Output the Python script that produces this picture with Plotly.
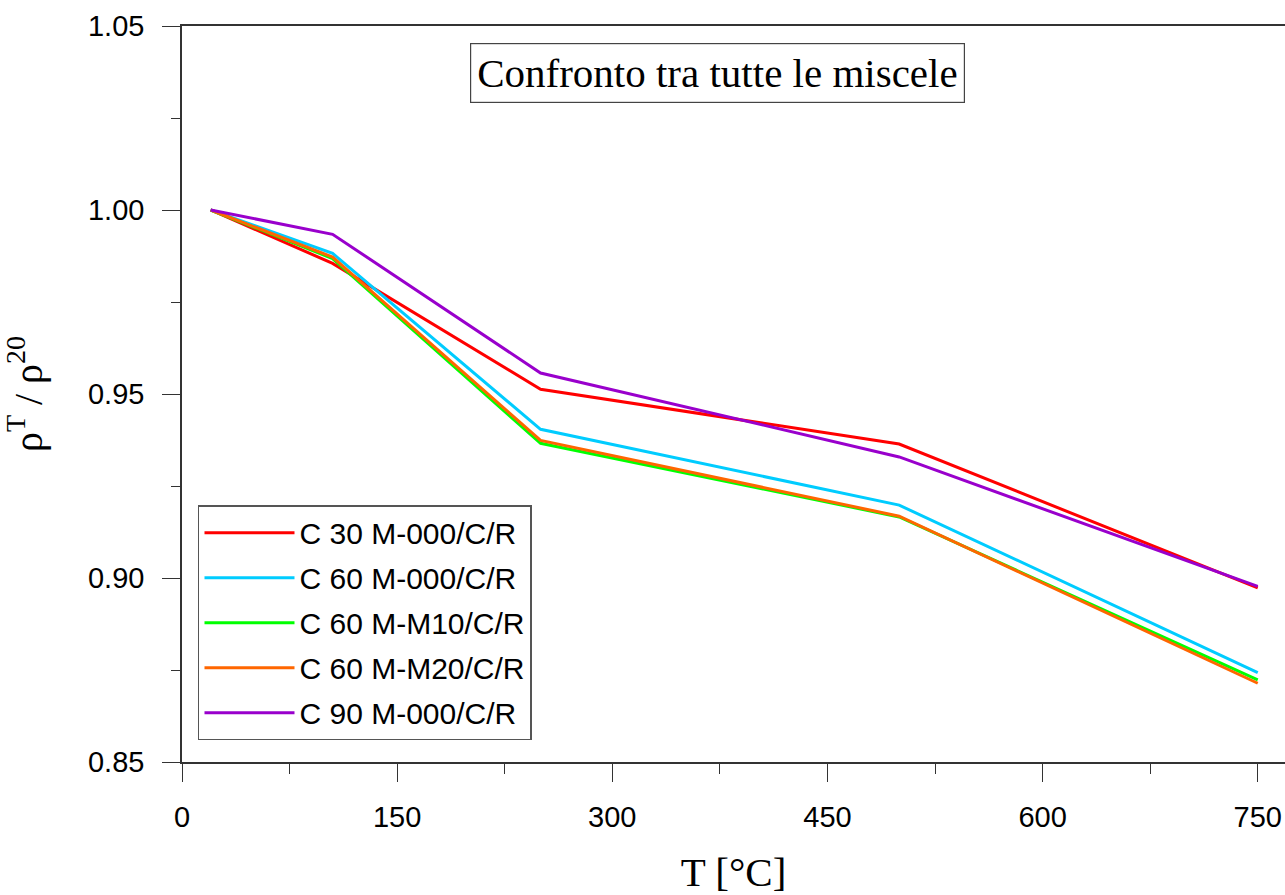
import plotly.graph_objects as go

T = [20, 105, 250, 500, 750]
series_names = ["C 30 M-000/C/R", "C 60 M-000/C/R", "C 60 M-M10/C/R", "C 60 M-M20/C/R", "C 90 M-000/C/R"]
c30_m000 = [1.000, 0.9855, 0.9513, 0.9364, 0.8973]
c60_m000 = [1.000, 0.9882, 0.9404, 0.9198, 0.8743]
c60_m10 = [1.000, 0.9868, 0.9366, 0.9166, 0.8723]
c60_m20 = [1.000, 0.9872, 0.9374, 0.9168, 0.8714]
c90_m000 = [1.000, 0.9934, 0.9557, 0.9329, 0.8977]
colors = ["#ff0000", "#00ccff", "#00ff00", "#ff6600", "#9900cc"]
x_ticks = [0, 150, 300, 450, 600, 750]
y_ticks = [0.85, 0.90, 0.95, 1.00, 1.05]
y_tick_labels = ["0.85", "0.90", "0.95", "1.00", "1.05"]

values = [c30_m000, c60_m000, c60_m10, c60_m20, c90_m000]

fig = go.Figure()
for name, vals, col in zip(series_names, values, colors):
    fig.add_trace(go.Scatter(x=T, y=vals, mode="lines", name=name,
                             legendgroup=name,
                             line=dict(color=col, width=3)))

sans = "Liberation Sans, Arial, sans-serif"
serif = "Liberation Serif, Times New Roman, serif"
axcol = "#333333"

fig.update_layout(
    template="none",
    width=1285, height=895,
    margin=dict(l=182, r=0, t=26, b=133, autoexpand=False),
    paper_bgcolor="white", plot_bgcolor="white",
    font=dict(family=sans, size=29, color="black"),
    showlegend=True,
    legend=dict(x=0.0145, y=0.349, xanchor="left", yanchor="top",
                bgcolor="white", bordercolor="#555555", borderwidth=1.5,
                font=dict(family=sans, size=30, color="black"),
                itemwidth=90, tracegroupgap=3),
    xaxis=dict(range=[0, 769], tickvals=x_ticks, ticks="outside", ticklen=18,
               tickwidth=1.2, tickcolor=axcol, ticklabelstandoff=10,
               showline=True, linecolor=axcol, linewidth=1.5, mirror=True,
               showgrid=False, zeroline=False, automargin=False,
               minor=dict(dtick=75, tick0=0, ticks="outside", ticklen=10, tickcolor=axcol, tickwidth=1.2),
               tickfont=dict(family=sans, size=29),
               title=dict(text="T [°C]", font=dict(family=serif, size=41), standoff=27)),
    yaxis=dict(range=[0.85, 1.05], tickvals=y_ticks, ticktext=y_tick_labels,
               ticks="outside", ticklen=18, tickwidth=1.2, tickcolor=axcol,
               ticklabelstandoff=12,
               showline=True, linecolor=axcol, linewidth=1.5, mirror=False,
               showgrid=False, zeroline=False, automargin=False,
               minor=dict(dtick=0.025, tick0=0.85, ticks="outside", ticklen=9, tickcolor=axcol, tickwidth=1.2),
               tickfont=dict(family=sans, size=29),
               title=dict(text="ρ<sup>T</sup> / ρ<sup>20</sup>", font=dict(family=serif, size=40), standoff=38)),
    annotations=[dict(text="Confronto tra tutte le miscele", xref="paper", yref="paper",
                      x=0.4855, y=0.936, xanchor="center", yanchor="middle", showarrow=False,
                      font=dict(family=serif, size=41, color="black"),
                      bordercolor="#444444", borderwidth=1.2, borderpad=6, bgcolor="white")],
)

fig.write_html("out.html")
